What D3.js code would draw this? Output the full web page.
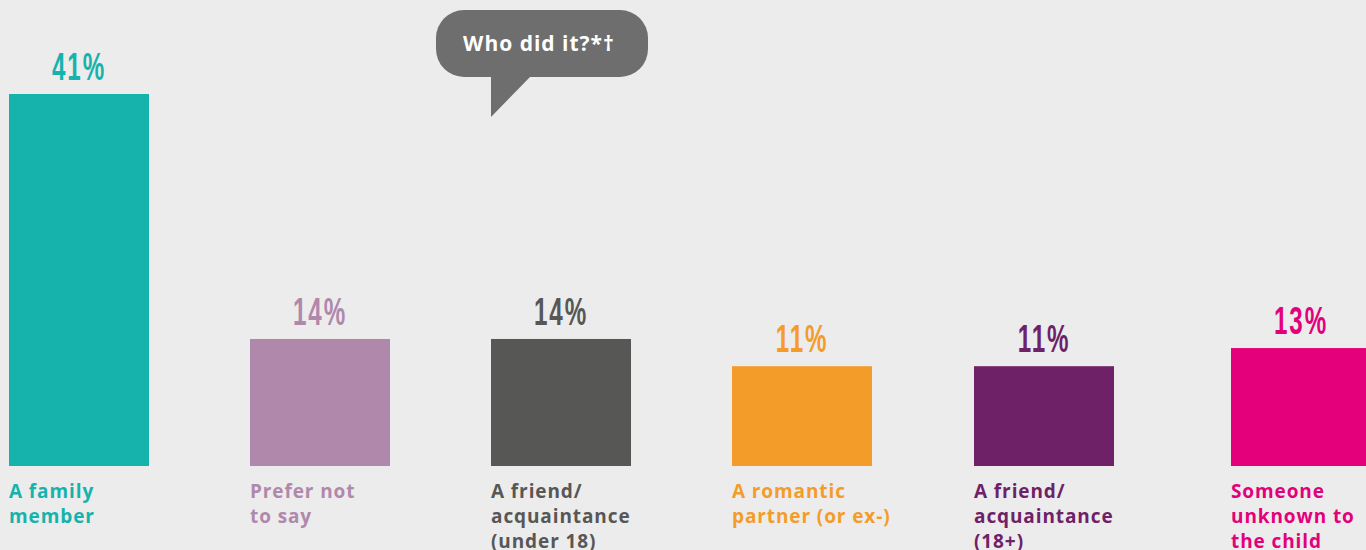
<!DOCTYPE html>
<html><head><meta charset="utf-8">
<script src="https://cdn.jsdelivr.net/npm/d3@7"></script>
<style>
html,body{margin:0;padding:0;background:#ececec;overflow:hidden;}
svg{display:block;}
</style></head>
<body>
<svg id="chart" width="1366" height="550"></svg>
<script>
const categories = ["family","prefer","friendU18","romantic","friend18","unknown"];
const labels = [
  ["A family","member"],
  ["Prefer not","to say"],
  ["A friend/","acquaintance","(under 18)"],
  ["A romantic","partner (or ex-)"],
  ["A friend/","acquaintance","(18+)"],
  ["Someone","unknown to","the child"]
];
const values = [41,14,14,11,11,13];
const colors = ["#16b3ac","#b088ac","#575756","#f49c2a","#6f2168","#e3007a"];
const title = "Who did it?*†";

const svg = d3.select("#chart");
svg.append("rect").attr("width",1366).attr("height",550).attr("fill","#ececec");

const baseline = 466, barW = 140;
const x = d3.scaleOrdinal().domain(categories).range([9,250,491,732,974,1231]);
const y = d3.scaleLinear().domain([0,41]).range([baseline,94]);

const g = svg.append("g");
const data = categories.map((c,i)=>({c, v:values[i], col:colors[i], lab:labels[i]}));

g.selectAll("rect.bar").data(data).join("rect").attr("class","bar")
  .attr("x",d=>x(d.c)).attr("y",d=>y(d.v))
  .attr("width",barW).attr("height",d=>baseline-y(d.v))
  .attr("fill",d=>d.col);

g.selectAll("text.val").data(data).join("text").attr("class","val")
  .attr("transform",d=>`translate(${x(d.c)+barW/2},${y(d.v)-14}) scale(0.62,1)`)
  .attr("text-anchor","middle")
  .attr("fill",d=>d.col)
  .style("font-family","'Liberation Sans',sans-serif")
  .style("font-weight","700")
  .style("font-size","39px")
  .style("letter-spacing","3px")
  .text(d=>d.v+"%");

const lt = g.selectAll("text.lab").data(data).join("text").attr("class","lab")
  .attr("fill",d=>d.col)
  .style("font-family","'Open Sans',sans-serif")
  .style("font-weight","700")
  .style("font-size","19px")
  .style("letter-spacing","0.9px");
lt.selectAll("tspan").data(d=>d.lab.map(t=>({t,x:x(d.c)}))).join("tspan")
  .attr("x",d=>d.x).attr("y",(d,i)=>498+i*25).text(d=>d.t);

// speech bubble
const b = svg.append("g");
b.append("rect").attr("x",436).attr("y",10).attr("width",212).attr("height",67)
  .attr("rx",28).attr("fill","#6e6e6e");
b.append("path").attr("d","M491,76 L491,117 L531,76 Z").attr("fill","#6e6e6e");
b.append("text").attr("x",539).attr("y",51).attr("text-anchor","middle")
  .attr("fill","#ffffff")
  .style("font-family","'Open Sans',sans-serif").style("font-weight","700")
  .style("font-size","21px").style("letter-spacing","1px").text(title);
</script>
</body></html>
